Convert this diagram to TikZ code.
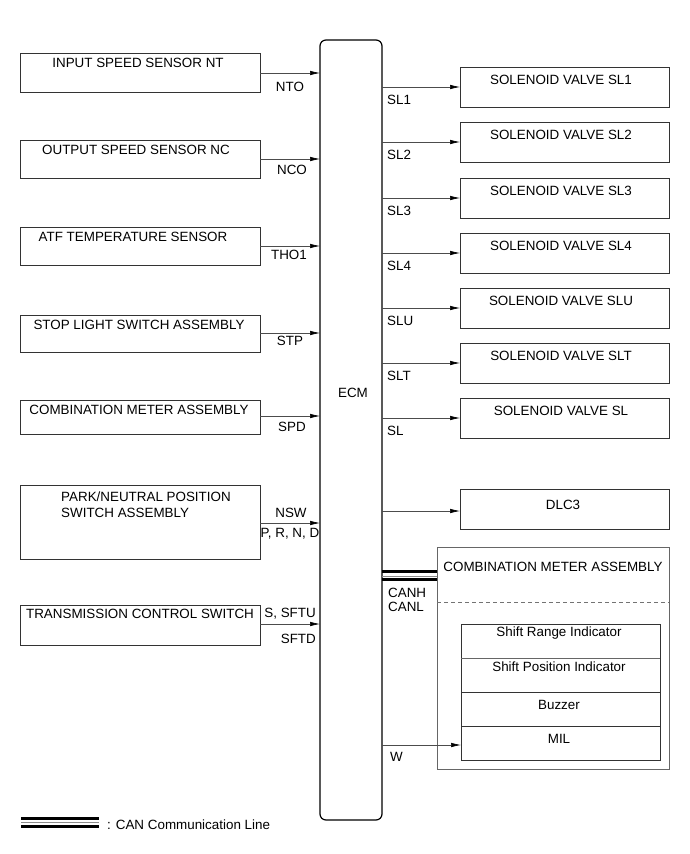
\documentclass[tikz,border=0pt]{standalone}
\usepackage{fontspec}
\setmainfont{Liberation Sans}
\usetikzlibrary{arrows.meta}
\begin{document}
\begin{tikzpicture}[x=1pt,y=-1pt,
  every node/.style={font=\fontsize{13.4}{15}\selectfont, inner sep=0pt},
  box/.style={draw=black!80, line width=0.8pt},
  lbl/.style={anchor=center},
  sig/.style={draw=black!70, line width=0.6pt, -{Latex[length=10pt,width=4.5pt,black]}},
  canthick/.style={line width=3pt, black},
  canmid/.style={line width=0.7pt, black!45}
]
\useasboundingbox (0,0) rectangle (690,854);
% ECM
\draw[line width=1.2pt, rounded corners=6pt] (320,40) rectangle (382,820);
\node (ecm) at (353,393) {ECM};

% left boxes
\draw[box] (20,53) rectangle (260,92);
\node at (138,63) {INPUT SPEED SENSOR NT};
\draw[box] (20,140) rectangle (260,178);
\node at (136,150) {OUTPUT SPEED SENSOR NC};
\draw[box] (20,227) rectangle (260,265);
\node at (133,237) {ATF TEMPERATURE SENSOR};
\draw[box] (20,315) rectangle (260,352);
\node at (139,325) {STOP LIGHT SWITCH ASSEMBLY};
\draw[box] (20,400) rectangle (260,434);
\node at (139,410) {COMBINATION METER ASSEMBLY};
\draw[box] (20,485) rectangle (260,559);
\node[anchor=west] at (61,497) {PARK/NEUTRAL POSITION};
\node[anchor=west] at (61,513) {SWITCH ASSEMBLY};
\draw[box] (20,605) rectangle (260,645);
\node at (140,614) {TRANSMISSION CONTROL SWITCH};

% left arrows
\coordinate (a1) at (260,73); \coordinate (b1) at (320,73);
\draw[sig] (a1) -- (b1);
\node at (290,87) {NTO};
\coordinate (a2) at (260,159); \coordinate (b2) at (320,159);
\draw[sig] (a2) -- (b2);
\node at (292,170) {NCO};
\coordinate (a3) at (260,246); \coordinate (b3) at (320,246);
\draw[sig] (a3) -- (b3);
\node at (289,255) {THO1};
\coordinate (a4) at (260,333); \coordinate (b4) at (320,333);
\draw[sig] (a4) -- (b4);
\node at (290,341) {STP};
\coordinate (a5) at (260,416); \coordinate (b5) at (320,416);
\draw[sig] (a5) -- (b5);
\node at (292,427) {SPD};
\coordinate (a6) at (260,523); \coordinate (b6) at (320,523);
\draw[sig] (a6) -- (b6);
\node at (291,513) {NSW};
\node at (290,534) {P, R, N, D};
\coordinate (a7) at (260,624); \coordinate (b7) at (320,624);
\draw[sig] (a7) -- (b7);
\node[anchor=east] at (316,614) {S, SFTU};
\node[anchor=east] at (316,639) {SFTD};

% right boxes
\foreach \t/\y/\l in {67/87/SL1, 122/142/SL2, 178/198/SL3, 233/253/SL4, 288/308/SLU, 343/363/SLT, 398/418/SL}{
  \draw[box] (460,\t) rectangle (669,\t+40);
  \node at (561,\t+13) {SOLENOID VALVE \l};
  \draw[sig] (382,\y) -- (460,\y);
  \node[anchor=west] at (387,\y+13) {\l};
}
\draw[box] (460,489) rectangle (669,529);
\node at (563,505) {DLC3};
\draw[sig] (382,511) -- (460,511);

% combination meter big box
\draw[draw=black!60, line width=0.6pt] (437,547) rectangle (669,769);
\node at (553,567) {COMBINATION METER ASSEMBLY};
\draw[draw=black!55, dash pattern=on 4pt off 3pt, line width=0.6pt] (437,602) -- (669,602);
\draw[box] (461,624) rectangle (660,760);
\draw[draw=black!60, line width=0.6pt] (461,658) -- (660,658);
\draw[box] (461,692) -- (660,692);
\draw[box] (461,726) -- (660,726);
\node at (559,633) {Shift Range Indicator};
\node at (559,667) {Shift Position Indicator};
\node at (559,705) {Buzzer};
\node at (559,739) {MIL};

% CAN lines
\draw[canthick] (382,571.5) -- (437,571.5);
\draw[canmid] (382,576) -- (437,576);
\draw[line width=2.5pt] (382,579.5) -- (437,579.5);
\node[anchor=west] at (388,593) {CANH};
\node[anchor=west] at (388,607) {CANL};

% W
\draw[sig] (382,745) -- (461,745);
\node[anchor=west] at (390,757) {W};

% legend
\draw[canthick] (21,818.5) -- (99,818.5);
\draw[canmid] (21,822.5) -- (99,822.5);
\draw[line width=3pt] (21,826.5) -- (99,826.5);
\node[anchor=west] at (107,825) {: CAN Communication Line};
\end{tikzpicture}
\end{document}
